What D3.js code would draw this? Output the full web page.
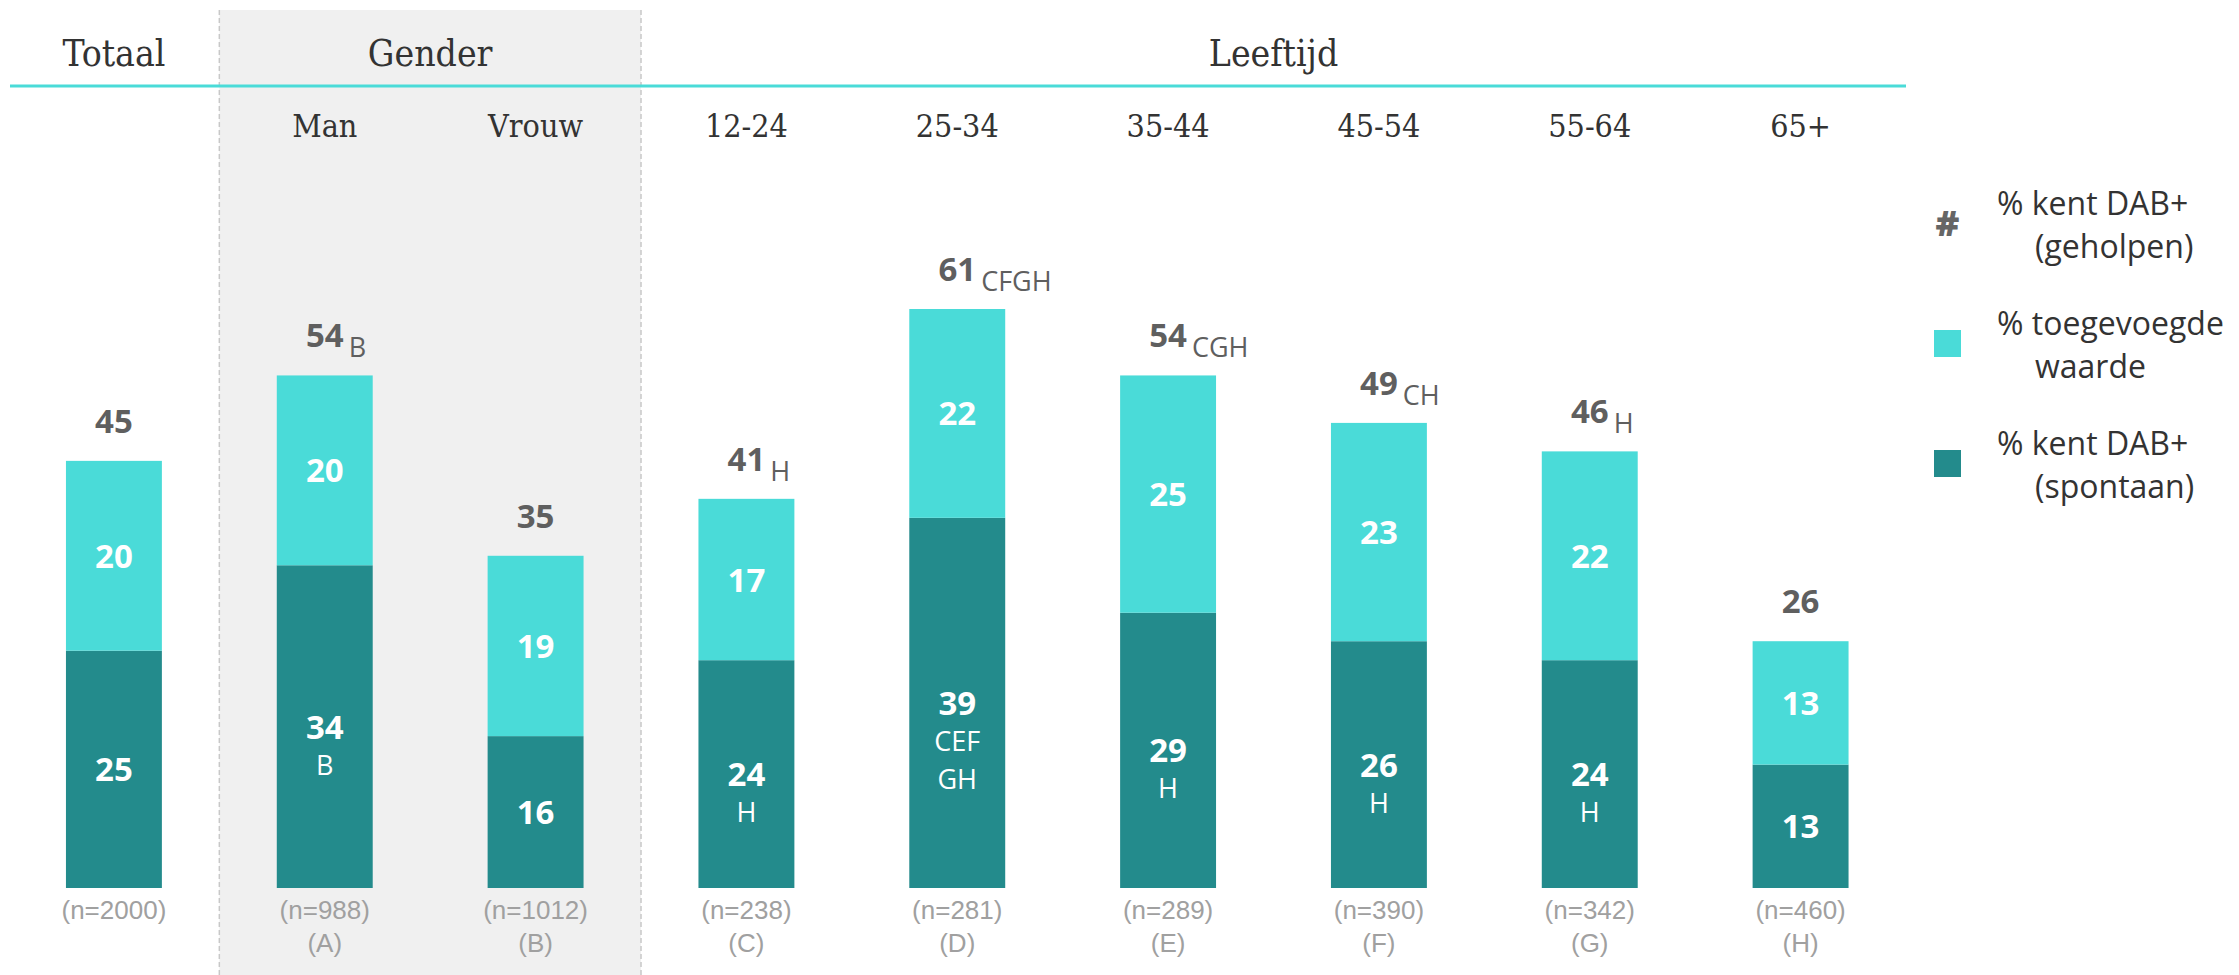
<!DOCTYPE html>
<html>
<head>
  <meta charset="utf-8">
  <script src="https://d3js.org/d3.v7.min.js"></script>
  <style>
    body { margin:0; background:#fff; }
  </style>
</head>
<body>
  <script>
    // data
    var categories = ["Totaal", "Man", "Vrouw", "12-24", "25-34", "35-44", "45-54", "55-64", "65+"];
    var subLabels  = ["", "Man", "Vrouw", "12-24", "25-34", "35-44", "45-54", "55-64", "65+"];
    var spontaan   = [25, 34, 16, 24, 39, 29, 26, 24, 13];
    var toegevoegd = [20, 20, 19, 17, 22, 25, 23, 22, 13];
    var totaal     = [45, 54, 35, 41, 61, 54, 49, 46, 26];
    var totaalSig  = ["", "B", "", "H", "CFGH", "CGH", "CH", "H", ""];
    var spontaanSig = [[], ["B"], [], ["H"], ["CEF", "GH"], ["H"], ["H"], ["H"], []];
    var nLabels    = ["(n=2000)", "(n=988)", "(n=1012)", "(n=238)", "(n=281)", "(n=289)", "(n=390)", "(n=342)", "(n=460)"];
    var groupCodes = ["", "(A)", "(B)", "(C)", "(D)", "(E)", "(F)", "(G)", "(H)"];
    var groups = [
      {name: "Totaal", from: "Totaal", to: "Totaal"},
      {name: "Gender", from: "Man", to: "Vrouw"},
      {name: "Leeftijd", from: "12-24", to: "65+"}
    ];
    var legendItems = [
      {lines: ["% kent DAB+", "(geholpen)"], type: "hash"},
      {lines: ["% toegevoegde", "waarde"], type: "light"},
      {lines: ["% kent DAB+", "(spontaan)"], type: "dark"}
    ];

    var W = 2239, H = 975;
    var cLight = "#4adbd8", cDark = "#238b8c";
    var serif = "'DejaVu Serif Condensed', 'DejaVu Serif', serif";
    var sans = "'Open Sans', 'Noto Sans', sans-serif";

    var svg = d3.select("body").append("svg")
      .attr("width", W)
      .attr("height", H);

    var x = d3.scaleBand()
      .domain(categories)
      .range([8.5, 1906])
      .paddingInner(0.545)
      .paddingOuter(0.2725);

    var y = d3.scaleLinear()
      .domain([0, 61])
      .range([888, 309]);

    var bw = x.bandwidth();
    var step = x.step();
    function cx(c) { return x(c) + bw / 2; }

    // grey panel for Gender
    var gLeft = cx("Man") - step / 2, gRight = cx("Vrouw") + step / 2;
    svg.append("rect")
      .attr("x", gLeft).attr("y", 10)
      .attr("width", gRight - gLeft).attr("height", H - 10)
      .attr("fill", "#f0f0f0");
    [gLeft, gRight].forEach(function(v) {
      svg.append("line")
        .attr("x1", v).attr("x2", v).attr("y1", 10).attr("y2", H)
        .attr("stroke", "#c8c8c8").attr("stroke-width", 1.5)
        .attr("stroke-dasharray", "5,3");
    });

    // teal header line
    svg.append("line")
      .attr("x1", 10).attr("x2", 1906).attr("y1", 86).attr("y2", 86)
      .attr("stroke", cLight).attr("stroke-width", 3);

    // group headers
    svg.selectAll(".grp").data(groups).enter().append("text")
      .attr("x", function(d) { return (cx(d.from) + cx(d.to)) / 2; })
      .attr("y", 66)
      .attr("text-anchor", "middle")
      .attr("font-family", serif)
      .attr("font-size", "37px")
      .attr("fill", "#333")
      .text(function(d) { return d.name; });

    svg.selectAll(".sub").data(categories).enter().append("text")
      .attr("x", function(d) { return cx(d); })
      .attr("y", 137)
      .attr("text-anchor", "middle")
      .attr("font-family", serif)
      .attr("font-size", "32px")
      .attr("fill", "#333")
      .text(function(d, i) { return subLabels[i]; });

    // stacked bars
    var bars = svg.selectAll(".bar").data(categories).enter().append("g");

    bars.append("rect")
      .attr("x", function(d) { return x(d); })
      .attr("y", function(d, i) { return y(spontaan[i]); })
      .attr("width", bw)
      .attr("height", function(d, i) { return y(0) - y(spontaan[i]); })
      .attr("fill", cDark);

    bars.append("rect")
      .attr("x", function(d) { return x(d); })
      .attr("y", function(d, i) { return y(totaal[i]); })
      .attr("width", bw)
      .attr("height", function(d, i) { return y(spontaan[i]) - y(totaal[i]); })
      .attr("fill", cLight);

    // values inside the bars
    bars.append("text")
      .attr("x", function(d) { return cx(d); })
      .attr("y", function(d, i) { return (y(spontaan[i]) + y(totaal[i])) / 2 + 12; })
      .attr("text-anchor", "middle")
      .attr("font-family", sans).attr("font-weight", "bold")
      .attr("font-size", "33px").attr("fill", "#fff")
      .text(function(d, i) { return toegevoegd[i]; });

    bars.append("text")
      .attr("x", function(d) { return cx(d); })
      .attr("y", function(d, i) { return (y(0) + y(spontaan[i])) / 2 + 12; })
      .attr("text-anchor", "middle")
      .attr("font-family", sans).attr("font-weight", "bold")
      .attr("font-size", "33px").attr("fill", "#fff")
      .text(function(d, i) { return spontaan[i]; });

    bars.each(function(d, i) {
      var g = d3.select(this);
      var mid = (y(0) + y(spontaan[i])) / 2;
      spontaanSig[i].forEach(function(s, k) {
        g.append("text")
          .attr("x", cx(d))
          .attr("y", mid + 38 * (k + 1) + 10)
          .attr("text-anchor", "middle")
          .attr("font-family", sans)
          .attr("font-size", "27px").attr("fill", "#fff")
          .text(s);
      });
    });

    // totals above the bars
    bars.each(function(d, i) {
      var g = d3.select(this);
      var t = g.append("text")
        .attr("x", cx(d))
        .attr("y", y(totaal[i]) - 28)
        .attr("text-anchor", "middle")
        .attr("font-family", sans).attr("font-weight", "bold")
        .attr("font-size", "33px").attr("fill", "#5f5f5f")
        .text(totaal[i]);
      if (totaalSig[i]) {
        var tw = t.node().getComputedTextLength();
        g.append("text")
          .attr("x", cx(d) + tw / 2 + 5)
          .attr("y", y(totaal[i]) - 18)
          .attr("font-family", sans)
          .attr("font-size", "27px").attr("fill", "#5f5f5f")
          .text(totaalSig[i]);
      }
    });

    // sample sizes under the bars
    bars.append("text")
      .attr("x", function(d) { return cx(d); })
      .attr("y", 919)
      .attr("text-anchor", "middle")
      .attr("font-family", "'Liberation Sans', Arial, sans-serif")
      .attr("font-size", "26px").attr("fill", "#a0a0a0")
      .text(function(d, i) { return nLabels[i]; });

    bars.append("text")
      .attr("x", function(d) { return cx(d); })
      .attr("y", 952)
      .attr("text-anchor", "middle")
      .attr("font-family", "'Liberation Sans', Arial, sans-serif")
      .attr("font-size", "26px").attr("fill", "#a0a0a0")
      .text(function(d, i) { return groupCodes[i]; });

    // legend
    var legY = [215, 335, 455];
    legendItems.forEach(function(item, i) {
      var by = legY[i];
      if (item.type === "hash") {
        svg.append("text")
          .attr("x", 1947.5).attr("y", by + 21)
          .attr("text-anchor", "middle")
          .attr("font-family", sans).attr("font-weight", "800")
          .attr("font-size", "36px").attr("fill", "#666")
          .text("#");
      } else {
        svg.append("rect")
          .attr("x", 1934).attr("y", by - 5)
          .attr("width", 27).attr("height", 27)
          .attr("fill", item.type === "light" ? cLight : cDark);
      }
      svg.append("text")
        .attr("x", 1997).attr("y", by)
        .attr("font-family", sans).attr("font-size", "32px").attr("fill", "#333")
        .text(item.lines[0]);
      svg.append("text")
        .attr("x", 2035).attr("y", by + 43)
        .attr("font-family", sans).attr("font-size", "32px").attr("fill", "#333")
        .text(item.lines[1]);
    });
  </script>
</body>
</html>
